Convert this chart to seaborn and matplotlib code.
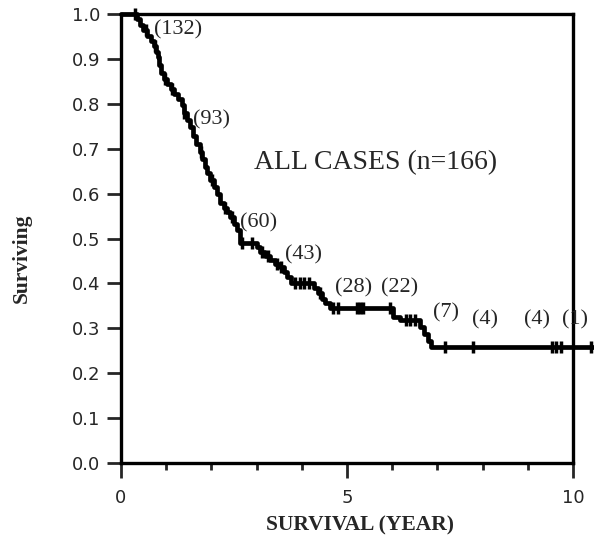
import matplotlib
matplotlib.use("Agg")
import matplotlib.pyplot as plt
import numpy as np
import pandas as pd
import seaborn as sns

# ---- data ----
step_time = [0.00, 0.36, 0.42, 0.49, 0.58, 0.66, 0.72, 0.78, 0.82, 0.85, 0.88,
             0.95, 1.02, 1.10, 1.18, 1.26, 1.34, 1.40, 1.46, 1.53, 1.60, 1.67,
             1.74, 1.80, 1.86, 1.91, 1.98, 2.05, 2.12, 2.19, 2.27, 2.34, 2.42,
             2.50, 2.57, 2.63, 3.00, 3.08, 3.18, 3.30, 3.41, 3.52, 3.60, 3.67,
             3.75, 4.28, 4.36, 4.44, 4.52, 4.62, 6.02, 6.17, 6.62, 6.70, 6.80,
             6.86, 10.46]
step_surv = [1.000, 0.988, 0.976, 0.964, 0.952, 0.940, 0.928, 0.916, 0.904, 0.886,
             0.868, 0.856, 0.845, 0.834, 0.822, 0.810, 0.797, 0.780, 0.765, 0.748,
             0.728, 0.710, 0.692, 0.676, 0.660, 0.645, 0.630, 0.614, 0.598, 0.580,
             0.568, 0.558, 0.547, 0.533, 0.519, 0.490, 0.480, 0.470, 0.461, 0.452,
             0.444, 0.436, 0.425, 0.414, 0.400, 0.390, 0.379, 0.366, 0.356, 0.346,
             0.326, 0.318, 0.303, 0.288, 0.272, 0.258, 0.258]

censor_time = [0.30, 0.55, 0.75, 0.98, 1.12, 1.40, 1.78, 2.02, 2.30, 2.45, 2.68,
               2.90, 3.12, 3.26, 3.46, 3.55, 3.85, 3.95, 4.05, 4.15, 4.40, 4.70,
               4.80, 5.22, 5.29, 5.36, 5.95, 6.30, 6.40, 6.50, 7.17, 7.79, 9.53,
               9.63, 9.73, 10.40]

# numbers at risk, with label positions
risk_labels = ["(132)", "(93)", "(60)", "(43)", "(28)", "(22)", "(7)", "(4)", "(4)", "(1)"]
risk_x = [1.26, 2.01, 3.05, 4.03, 5.15, 6.17, 7.19, 8.05, 9.20, 10.04]
risk_y = [0.964, 0.764, 0.535, 0.463, 0.390, 0.390, 0.334, 0.318, 0.318, 0.318]

df = pd.DataFrame({"time": step_time, "surv": step_surv})
idx = np.searchsorted(step_time, censor_time, side="right") - 1
cens = pd.DataFrame({"time": censor_time, "surv": np.array(step_surv)[idx]})

sns.set_style("ticks")
plt.rcParams["font.family"] = ["DejaVu Sans"]

fig = plt.figure(figsize=(5.94, 5.39), dpi=100)
ax = fig.add_axes([121 / 594, 76 / 539, 452 / 594, 449 / 539])

sns.lineplot(data=df, x="time", y="surv", ax=ax, color="black", linewidth=3.4,
             drawstyle="steps-post", estimator=None, sort=False, clip_on=False)
sns.scatterplot(data=cens, x="time", y="surv", ax=ax, marker="|", s=80,
                color="black", linewidth=2.5, clip_on=False)

ax.set_xlim(0, 10)
ax.set_ylim(0, 1)
ax.set_xticks([0, 5, 10])
ax.set_xticks(np.arange(0, 11), minor=True)
ax.set_yticks(np.arange(0, 1.01, 0.1))
ax.set_yticklabels([f"{v:.1f}" for v in np.arange(0, 1.01, 0.1)])
ax.tick_params(axis="y", length=10, width=2, direction="out", labelsize=13, pad=5)
ax.tick_params(axis="x", which="major", length=11, width=2, direction="out",
               labelsize=13, pad=8)
ax.tick_params(axis="x", which="minor", length=5, width=2, direction="out")
for s in ax.spines.values():
    s.set_linewidth(2.4)
    s.set_color("black")
ax.set_xlabel("")
ax.set_ylabel("")

serif = ["Liberation Serif", "DejaVu Serif"]
for lab, x, y in zip(risk_labels, risk_x, risk_y):
    ax.text(x, y, lab, ha="center", va="center", fontsize=16, family=serif,
            clip_on=False)
ax.text(5.64, 0.668, "ALL CASES (n=166)", ha="center", va="center",
        fontsize=20, family=serif)

fig.text(360 / 594, 1 - 525 / 539, "SURVIVAL (YEAR)", ha="center", va="center",
         fontsize=15.5, fontweight="bold", family=serif)
fig.text(22 / 594, 1 - 258 / 539, "Surviving", ha="center", va="center",
         rotation=90, fontsize=15.5, fontweight="bold", family=serif)

fig.savefig("out.png", dpi=100)
